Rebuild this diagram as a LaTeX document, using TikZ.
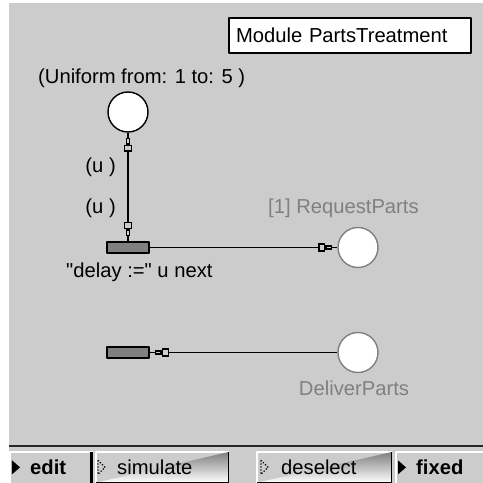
\documentclass[tikz,border=0pt]{standalone}
\usepackage{fontspec}
\setmainfont{Liberation Sans}
\newfontfamily\plainsans{Liberation Sans}
\usetikzlibrary{arrows.meta}
\definecolor{panel}{RGB}{204,204,204}
\definecolor{bar}{RGB}{128,128,128}
\definecolor{faint}{RGB}{128,128,128}
\definecolor{shade}{RGB}{64,64,64}
\begin{document}
\begin{tikzpicture}[x=0.02cm,y=-0.02cm,line join=round,
	every node/.style={font=\fontsize{11.5}{13}\selectfont},
	place/.style={circle,draw,fill=white,minimum size=0.8cm,inner sep=0pt,line width=0.8pt},
	dimplace/.style={place,draw=faint},
	trans/.style={rectangle,draw,fill=bar,minimum width=0.84cm,minimum height=0.22cm,inner sep=0pt,line width=0.9pt},
	arc/.style={line width=0.9pt},
	gap/.style={arc,shorten >=2.8pt,shorten <=2.8pt},
	btn/.style={rectangle,fill=panel,minimum height=0.6cm,inner sep=0pt,anchor=north west}]
	\def\wtip{Rectangle[length=4.2pt,width=4.8pt,fill=panel]}
	\def\ntip{Rectangle[length=4pt,width=2.6pt,fill=panel]}
	% window
	\useasboundingbox (0,0) rectangle (483,483);
	\fill[white] (0,0) rectangle (483,483);
	\fill[panel] (9,3) rectangle (483,483);
	\draw[line width=1.2pt,black!85] (9,446)--(483,446);
	\node[draw,fill=white,line width=0.8pt,minimum height=0.7cm,text width=4.56cm,inner xsep=0.14cm,align=left]
		(module) at (350,35.5) {Module PartsTreatment};
	% net
	\node[place] (src) at (128,112) {};
	\node[trans] (tr1) at (128,247.5) {};
	\node[dimplace] (req) at (358,247.5) {};
	\node[trans] (tr2) at (128,352.5) {};
	\node[dimplace] (del) at (358,352.5) {};
	\draw[arc] (src)--(tr1);
	\draw[gap,{\ntip\wtip}-{\wtip\ntip}] (src)--(tr1);
	\draw[arc] (tr1)--(req);
	\draw[gap,-{\wtip\ntip}] (tr1)--(req);
	\draw[arc] (del)--(tr2);
	\draw[gap,-{\wtip\ntip}] (del)--(tr2);
	\node[anchor=west] (dist) at (32,78) {(Uniform from: 1 to: 5 )};
	\node[anchor=east] (inscr1) at (122,167) {(u )};
	\node[anchor=east] (inscr2) at (122,208) {(u )};
	\node[anchor=west,text=faint] (reqlabel) at (262,208) {[1] RequestParts};
	\node[anchor=west] (action) at (60,272) {\plainsans"delay :=" u next};
	\node[text=faint] (dellabel) at (354,388) {DeliverParts};
	% buttons
	\node[btn,minimum width=1.64cm] (bedit) at (10,452) {};
	\node[btn,minimum width=2.64cm] (bsim) at (96,452) {};
	\node[btn,minimum width=2.68cm] (bdesel) at (257,452) {};
	\node[btn,minimum width=1.8cm] (bfixed) at (396,452) {};
	\foreach \b in {bsim,bdesel}{
		\draw[white,line width=0.8pt] (\b.south west)|-(\b.north east);
		\draw[shade,line width=0.8pt] (\b.south west)-|(\b.north east);}
	\foreach \b in {bedit,bfixed}{
		\draw[white,line width=0.8pt] (\b.south west)|-(\b.north east);
		\draw[black,line width=1.4pt] ([yshift=-0.7pt]\b.south west)-|([xshift=-0.7pt]\b.north east);}
	\node[anchor=west] (tedit) at ([xshift=0.28cm]bedit.west) {\textbf{edit}};
	\node[anchor=west] (tsim) at ([xshift=0.3cm]bsim.west) {simulate};
	\node[anchor=west] (tdesel) at ([xshift=0.36cm]bdesel.west) {deselect};
	\node[anchor=west] (tfixed) at ([xshift=0.28cm]bfixed.west) {\textbf{fixed}};
	\fill ([xshift=0.04cm]bedit.west) ++(0,-7)--++(0,14)--++(8,-7)--cycle;
	\fill ([xshift=0.04cm]bfixed.west) ++(0,-7)--++(0,14)--++(8,-7)--cycle;
	\draw[densely dotted,line width=0.7pt] ([xshift=0.04cm]bsim.west) ++(0,-7)--++(0,14)--++(7,-7)--cycle;
	\draw[densely dotted,line width=0.7pt] ([xshift=0.08cm]bdesel.west) ++(0,-7)--++(0,14)--++(7,-7)--cycle;
\end{tikzpicture}
\end{document}
